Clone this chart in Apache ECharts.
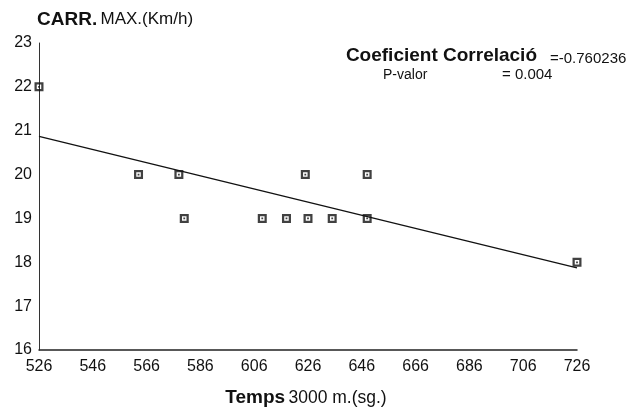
<!DOCTYPE html>
<html>
<head>
<meta charset="utf-8">
<script src="https://cdn.jsdelivr.net/npm/echarts@6/dist/echarts.min.js"></script>
<style>
html,body{margin:0;padding:0;background:#fff;}
#c{width:642px;height:409px;}
</style>
</head>
<body>
<div id="c"></div>
<script>
// Data
const tempsX = [526, 563, 578, 580, 609, 618, 625, 626, 635, 648, 648, 726];
const carrY  = [22, 20, 20, 19, 19, 19, 20, 19, 19, 20, 19, 18];
// Regression line endpoints
const fitX = [526, 726];
const fitY = [20.87, 17.87];
const xTicks = [526, 546, 566, 586, 606, 626, 646, 666, 686, 706, 726];
const yTicks = [16, 17, 18, 19, 20, 21, 22, 23];

const FONT = 'Liberation Sans, Arial, Helvetica, sans-serif';
const chart = echarts.init(document.getElementById('c'), null, {renderer: 'canvas'});

const points = tempsX.map((x, i) => [x, carrY[i]]);
const fitLine = fitX.map((x, i) => [x, fitY[i]]);

chart.setOption({
  animation: false,
  backgroundColor: '#fff',
  grid: {left: 39, right: 65, top: 43, bottom: 59, containLabel: false},
  xAxis: {
    type: 'value',
    min: xTicks[0], max: xTicks[xTicks.length - 1], interval: 20,
    axisLine: {show: true, onZero: false, lineStyle: {color: '#222', width: 1.5}},
    axisTick: {show: false},
    splitLine: {show: false},
    axisLabel: {color: '#111', fontSize: 16, fontFamily: FONT, margin: 9}
  },
  yAxis: {
    type: 'value',
    min: yTicks[0], max: yTicks[yTicks.length - 1], interval: 1,
    axisLine: {show: true, onZero: false, lineStyle: {color: '#333', width: 1}},
    axisTick: {show: false},
    splitLine: {show: false},
    axisLabel: {color: '#111', fontSize: 16, fontFamily: FONT, margin: 7}
  },
  series: [
    {
      type: 'line',
      data: fitLine,
      showSymbol: false,
      lineStyle: {color: '#111', width: 1.3},
      z: 2
    },
    {
      type: 'scatter',
      data: points,
      symbol: 'path://M0,0H10V10H0Z M2.5,2.5V7.5H7.5V2.5Z M4,4H6V6H4Z',
      symbolSize: 9,
      itemStyle: {color: '#111'},
      z: 3
    }
  ],
  graphic: [
    {
      type: 'text', left: 37, top: 10,
      style: {
        text: '{b|CARR.} {n|MAX.(Km/h)}',
        rich: {
          b: {fontSize: 19, fontWeight: 'bold', fontFamily: FONT, fill: '#111'},
          n: {fontSize: 17, fontFamily: FONT, fill: '#111'}
        }
      }
    },
    {
      type: 'text', x: 537, y: 56,
      style: {text: 'Coeficient Correlació', fontSize: 19, fontWeight: 'bold', fontFamily: FONT,
        fill: '#111', align: 'right', verticalAlign: 'middle'}
    },
    {
      type: 'text', x: 550, y: 59,
      style: {text: '=-0.760236', fontSize: 15, fontFamily: FONT, fill: '#111',
        align: 'left', verticalAlign: 'middle'}
    },
    {
      type: 'text', x: 383, y: 75,
      style: {text: 'P-valor', fontSize: 14, fontFamily: FONT, fill: '#111',
        align: 'left', verticalAlign: 'middle'}
    },
    {
      type: 'text', x: 502, y: 75,
      style: {text: '= 0.004', fontSize: 15, fontFamily: FONT, fill: '#111',
        align: 'left', verticalAlign: 'middle'}
    },
    {
      type: 'text', x: 306, y: 398,
      style: {
        text: '{b|Temps} {n|3000 m.(sg.)}',
        align: 'center', verticalAlign: 'middle',
        rich: {
          b: {fontSize: 19, fontWeight: 'bold', fontFamily: FONT, fill: '#111'},
          n: {fontSize: 17.5, fontFamily: FONT, fill: '#111'}
        }
      }
    }
  ]
});
</script>
</body>
</html>
